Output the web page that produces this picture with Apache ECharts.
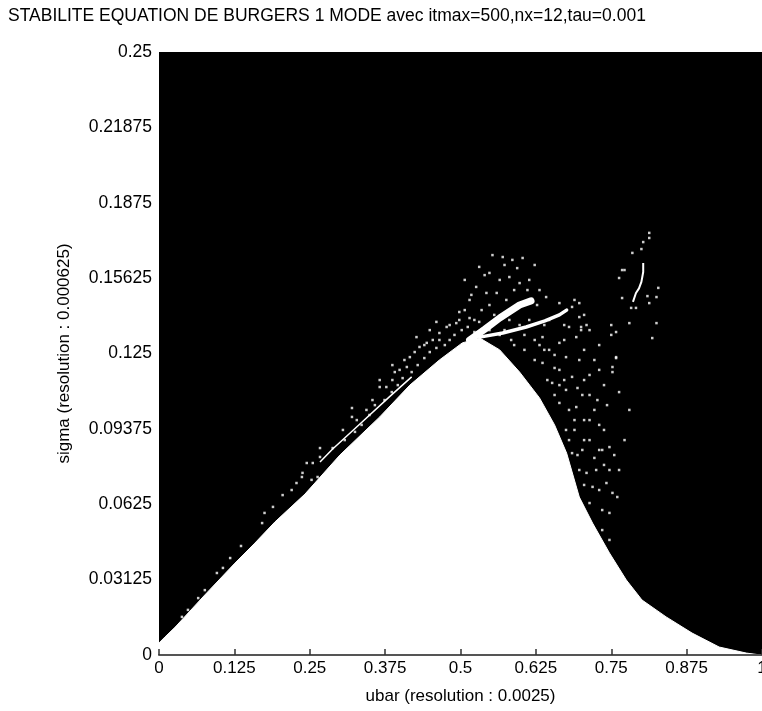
<!DOCTYPE html>
<html>
<head>
<meta charset="utf-8">
<script src="https://cdn.jsdelivr.net/npm/echarts@6/dist/echarts.min.js"></script>
<style>
  html, body { margin: 0; padding: 0; background: #fff; overflow: hidden; }
  #chart { width: 762px; height: 711px; }
</style>
</head>
<body>
<div id="chart"></div>
<script>
// upper edge of the stable (white) region
var edgeU = [0, 0.010, 0.027, 0.076, 0.126, 0.159, 0.192, 0.242, 0.300, 0.366, 0.416, 0.465, 0.503, 0.532, 0.565, 0.598, 0.631, 0.656, 0.676, 0.697, 0.719, 0.747, 0.775, 0.801, 0.841, 0.884, 0.929, 0.974, 0.998, 1];
var edgeS = [0.0050, 0.0075, 0.0116, 0.0249, 0.0381, 0.0464, 0.0551, 0.0667, 0.0829, 0.0987, 0.1119, 0.1223, 0.1294, 0.1314, 0.1265, 0.1173, 0.1066, 0.0954, 0.0837, 0.0655, 0.0547, 0.0423, 0.0311, 0.0228, 0.0158, 0.0091, 0.0033, 0.0008, 0, 0];

// white fingers and strands reaching into the unstable zone
var fingerAU = [0.515, 0.540, 0.565, 0.598, 0.617];
var fingerAS = [0.1306, 0.1350, 0.1397, 0.1451, 0.1468];
var fingerBU = [0.532, 0.570, 0.609, 0.640, 0.664, 0.676];
var fingerBS = [0.1318, 0.1335, 0.1360, 0.1385, 0.1410, 0.1430];
var strandU = [0.267, 0.288, 0.335, 0.382, 0.419];
var strandS = [0.0800, 0.0854, 0.0962, 0.1070, 0.1153];
var streakU = [0.803, 0.803, 0.800, 0.796, 0.791, 0.786];
var streakS = [0.1625, 0.1588, 0.1547, 0.1520, 0.1501, 0.1464];

// isolated stable points
var whiteU = [0.038, 0.048, 0.065, 0.076, 0.096, 0.106, 0.118, 0.136, 0.171, 0.175, 0.189, 0.205, 0.220, 0.228, 0.237, 0.253, 0.263,
  0.238, 0.255, 0.267, 0.288, 0.305, 0.320, 0.328, 0.344, 0.354, 0.366, 0.377, 0.387, 0.399, 0.411, 0.416, 0.432, 0.444, 0.454, 0.465, 0.477, 0.493, 0.498,
  0.245, 0.267, 0.320, 0.366, 0.387, 0.427, 0.449, 0.460,
  0.553, 0.570, 0.586, 0.603, 0.531, 0.548, 0.565, 0.581, 0.598, 0.526, 0.543, 0.560, 0.576, 0.631, 0.642, 0.664, 0.685, 0.697, 0.680, 0.692, 0.664, 0.636, 0.647, 0.675, 0.697, 0.636, 0.664, 0.685, 0.652, 0.675, 0.692, 0.664, 0.768, 0.750, 0.758, 0.752, 0.763, 0.780,
  0.515, 0.507, 0.523, 0.614, 0.639, 0.598, 0.573, 0.548, 0.589, 0.614, 0.573, 0.623,
  0.705, 0.714, 0.722, 0.730, 0.705, 0.689, 0.714, 0.730, 0.747, 0.697,
  0.675, 0.680, 0.685, 0.702, 0.709, 0.725, 0.735, 0.747, 0.719, 0.730, 0.742, 0.752, 0.760, 0.735, 0.747, 0.735, 0.747, 0.714, 0.705,
  0.785, 0.772, 0.763, 0.828, 0.825, 0.810, 0.813, 0.768, 0.783, 0.791, 0.705, 0.700, 0.709, 0.700, 0.825, 0.758, 0.750, 0.818, 0.758, 0.752, 0.697,
  0.813, 0.813, 0.803, 0.800,
  0.507, 0.518, 0.535, 0.556, 0.581, 0.540, 0.594, 0.611, 0.627, 0.647, 0.672, 0.689, 0.714, 0.730, 0.722, 0.714, 0.738, 0.727, 0.702, 0.680,
  0.705, 0.738, 0.755, 0.722, 0.694, 0.667, 0.656, 0.644, 0.623, 0.606, 0.589, 0.631, 0.656, 0.705, 0.672, 0.730, 0.743, 0.689, 0.664, 0.763, 0.772, 0.780,
  0.308, 0.325, 0.336, 0.349, 0.358, 0.374, 0.386, 0.396, 0.404, 0.419, 0.429, 0.440, 0.449, 0.460, 0.474, 0.482, 0.490, 0.502, 0.512, 0.523,
  0.391, 0.407, 0.424, 0.440, 0.465, 0.482, 0.498, 0.515, 0.531, 0.548, 0.565, 0.584, 0.606, 0.623, 0.639, 0.656, 0.672, 0.694, 0.714, 0.738];
var whiteS = [0.0158, 0.0187, 0.0236, 0.0269, 0.0340, 0.0361, 0.0402, 0.0452, 0.0547, 0.0589, 0.0614, 0.0663, 0.0684, 0.0713, 0.0738, 0.0726, 0.0738,
  0.0755, 0.0796, 0.0821, 0.0858, 0.0933, 0.0987, 0.0974, 0.1016, 0.1057, 0.1111, 0.1111, 0.1140, 0.1182, 0.1194, 0.1235, 0.1277, 0.1294, 0.1306, 0.1335, 0.1360, 0.1376, 0.1389,
  0.0796, 0.0858, 0.1024, 0.1140, 0.1202, 0.1318, 0.1347, 0.1381,
  0.1658, 0.1650, 0.1638, 0.1646, 0.1609, 0.1584, 0.1555, 0.1567, 0.1542, 0.1526, 0.1501, 0.1501, 0.1472, 0.1513, 0.1484, 0.1459, 0.1443, 0.1401, 0.1360, 0.1318, 0.1294, 0.1318, 0.1265, 0.1235, 0.1223, 0.1211, 0.1182, 0.1153, 0.1128, 0.1099, 0.1028, 0.1045, 0.1596, 0.1368, 0.1235, 0.1194, 0.1090, 0.1376,
  0.1472, 0.1430, 0.1389, 0.1389, 0.1368, 0.1368, 0.1347, 0.1451, 0.1513, 0.1555, 0.1617, 0.1617,
  0.1140, 0.1078, 0.1016, 0.0954, 0.0974, 0.0933, 0.0891, 0.0850, 0.0767, 0.0767,
  0.0933, 0.0891, 0.0837, 0.0850, 0.0755, 0.0767, 0.0850, 0.0862, 0.0697, 0.0684, 0.0713, 0.0672, 0.0655, 0.0601, 0.0589, 0.0518, 0.0477, 0.0630, 0.0705,
  0.1667, 0.1596, 0.1563, 0.1522, 0.1484, 0.1488, 0.1459, 0.1480, 0.1439, 0.1439, 0.1410, 0.1360, 0.1368, 0.1347, 0.1376, 0.1339, 0.1327, 0.1314, 0.1231, 0.1173, 0.1459,
  0.1750, 0.1729, 0.1712, 0.1683,
  0.1555, 0.1493, 0.1430, 0.1410, 0.1389, 0.1575, 0.1604, 0.1513, 0.1451, 0.1389, 0.1368, 0.1472, 0.1347, 0.1285, 0.1223, 0.1161, 0.1119, 0.1057, 0.1078, 0.1016,
  0.0891, 0.0933, 0.0829, 0.0817, 0.0829, 0.0850, 0.1078, 0.1140, 0.1223, 0.1265, 0.1285, 0.1285, 0.1244, 0.1265, 0.1306, 0.1182, 0.1036, 0.0974, 0.1119, 0.0767, 0.0891, 0.1016,
  0.0891, 0.0925, 0.0954, 0.0995, 0.1036, 0.1057, 0.1090, 0.1119, 0.1148, 0.1173, 0.1202, 0.1231, 0.1256, 0.1273, 0.1285, 0.1306, 0.1327, 0.1347, 0.1360, 0.1339,
  0.1173, 0.1223, 0.1256, 0.1285, 0.1306, 0.1368, 0.1422, 0.1397, 0.1381, 0.1347, 0.1327, 0.1306, 0.1327, 0.1306, 0.1265, 0.1190, 0.1140, 0.1107, 0.0974, 0.0788];

// isolated unstable points inside the white region
var blackU = [0.531, 0.543, 0.565, 0.576, 0.553, 0.586, 0.570, 0.598, 0.609, 0.586, 0.614, 0.626, 0.639, 0.647, 0.520, 0.603, 0.631, 0.656, 0.664, 0.672, 0.680, 0.689, 0.697, 0.705, 0.722, 0.730,
  0.515, 0.523, 0.540, 0.556, 0.573, 0.589, 0.606, 0.623, 0.639, 0.652, 0.548, 0.581, 0.598, 0.631, 0.656, 0.672, 0.684, 0.694, 0.710, 0.717, 0.738, 0.750];
var blackS = [0.1265, 0.1223, 0.1223, 0.1190, 0.1173, 0.1148, 0.1119, 0.1107, 0.1066, 0.1086, 0.1024, 0.0974, 0.0933, 0.0891, 0.1128, 0.1078, 0.1016, 0.0871, 0.0808, 0.0767, 0.0705, 0.0643, 0.0601, 0.0560, 0.0498, 0.0456,
  0.1265, 0.1202, 0.1140, 0.1090, 0.1049, 0.1016, 0.0974, 0.0925, 0.0871, 0.0829, 0.1244, 0.1202, 0.1057, 0.0954, 0.0900, 0.0800, 0.0734, 0.0676, 0.0601, 0.0539, 0.0444, 0.0394];

function pairs(u, s) {
  var out = [];
  for (var i = 0; i < u.length; i++) out.push([u[i], s[i]]);
  return out;
}

var font = 'Liberation Sans';
var chart = echarts.init(document.getElementById('chart'), null, { renderer: 'canvas' });

var option = {
  animation: false,
  backgroundColor: '#fff',
  title: {
    text: 'STABILITE EQUATION DE BURGERS 1 MODE avec itmax=500,nx=12,tau=0.001',
    left: 8,
    top: 7,
    padding: 0,
    textStyle: { color: '#000', fontFamily: font, fontSize: 17.5, fontWeight: 'normal' }
  },
  grid: {
    left: 159, top: 52, width: 603, height: 603,
    outerBoundsMode: 'none',
    show: true, backgroundColor: '#000', borderWidth: 0
  },
  xAxis: {
    type: 'value', min: 0, max: 1, interval: 0.125, z: 10,
    name: 'ubar (resolution : 0.0025)',
    nameLocation: 'middle', nameGap: 33,
    nameTextStyle: { color: '#000', fontFamily: font, fontSize: 17 },
    axisLine: { lineStyle: { color: '#555', width: 2 } },
    axisTick: { inside: true, length: 6, lineStyle: { color: '#333', width: 1.5 } },
    axisLabel: { color: '#000', fontFamily: font, fontSize: 17, margin: 5 },
    splitLine: { show: false }
  },
  yAxis: {
    type: 'value', min: 0, max: 0.25, interval: 0.03125,
    name: 'sigma (resolution : 0.000625)',
    nameLocation: 'middle', nameGap: 86, nameRotate: 90,
    nameTextStyle: { color: '#000', fontFamily: font, fontSize: 17 },
    axisLine: { show: false },
    axisTick: { show: false },
    axisLabel: { color: '#000', fontFamily: font, fontSize: 17.5, margin: 7 },
    splitLine: { show: false }
  },
  series: [
    {
      type: 'line', data: pairs(edgeU, edgeS), showSymbol: false,
      lineStyle: { color: '#fff', width: 1 },
      areaStyle: { color: '#fff', opacity: 1 }
    },
    {
      type: 'line', data: pairs(strandU, strandS), showSymbol: false,
      lineStyle: { color: '#fff', width: 1.5 }
    },
    {
      type: 'line', data: pairs(fingerAU, fingerAS), showSymbol: false,
      lineStyle: { color: '#fff', width: 7, cap: 'round' }
    },
    {
      type: 'line', data: pairs(fingerBU, fingerBS), showSymbol: false,
      lineStyle: { color: '#fff', width: 3.5, cap: 'round' }
    },
    {
      type: 'line', data: pairs(streakU, streakS), showSymbol: false,
      lineStyle: { color: '#fff', width: 2 }
    },
    {
      type: 'scatter', data: pairs(whiteU, whiteS),
      symbol: 'rect', symbolSize: 2.5,
      itemStyle: { color: '#fff' }
    },
    {
      type: 'scatter', data: pairs(blackU, blackS),
      symbol: 'rect', symbolSize: 2.5,
      itemStyle: { color: '#000' }
    }
  ]
};
chart.setOption(option);
</script>
</body>
</html>
